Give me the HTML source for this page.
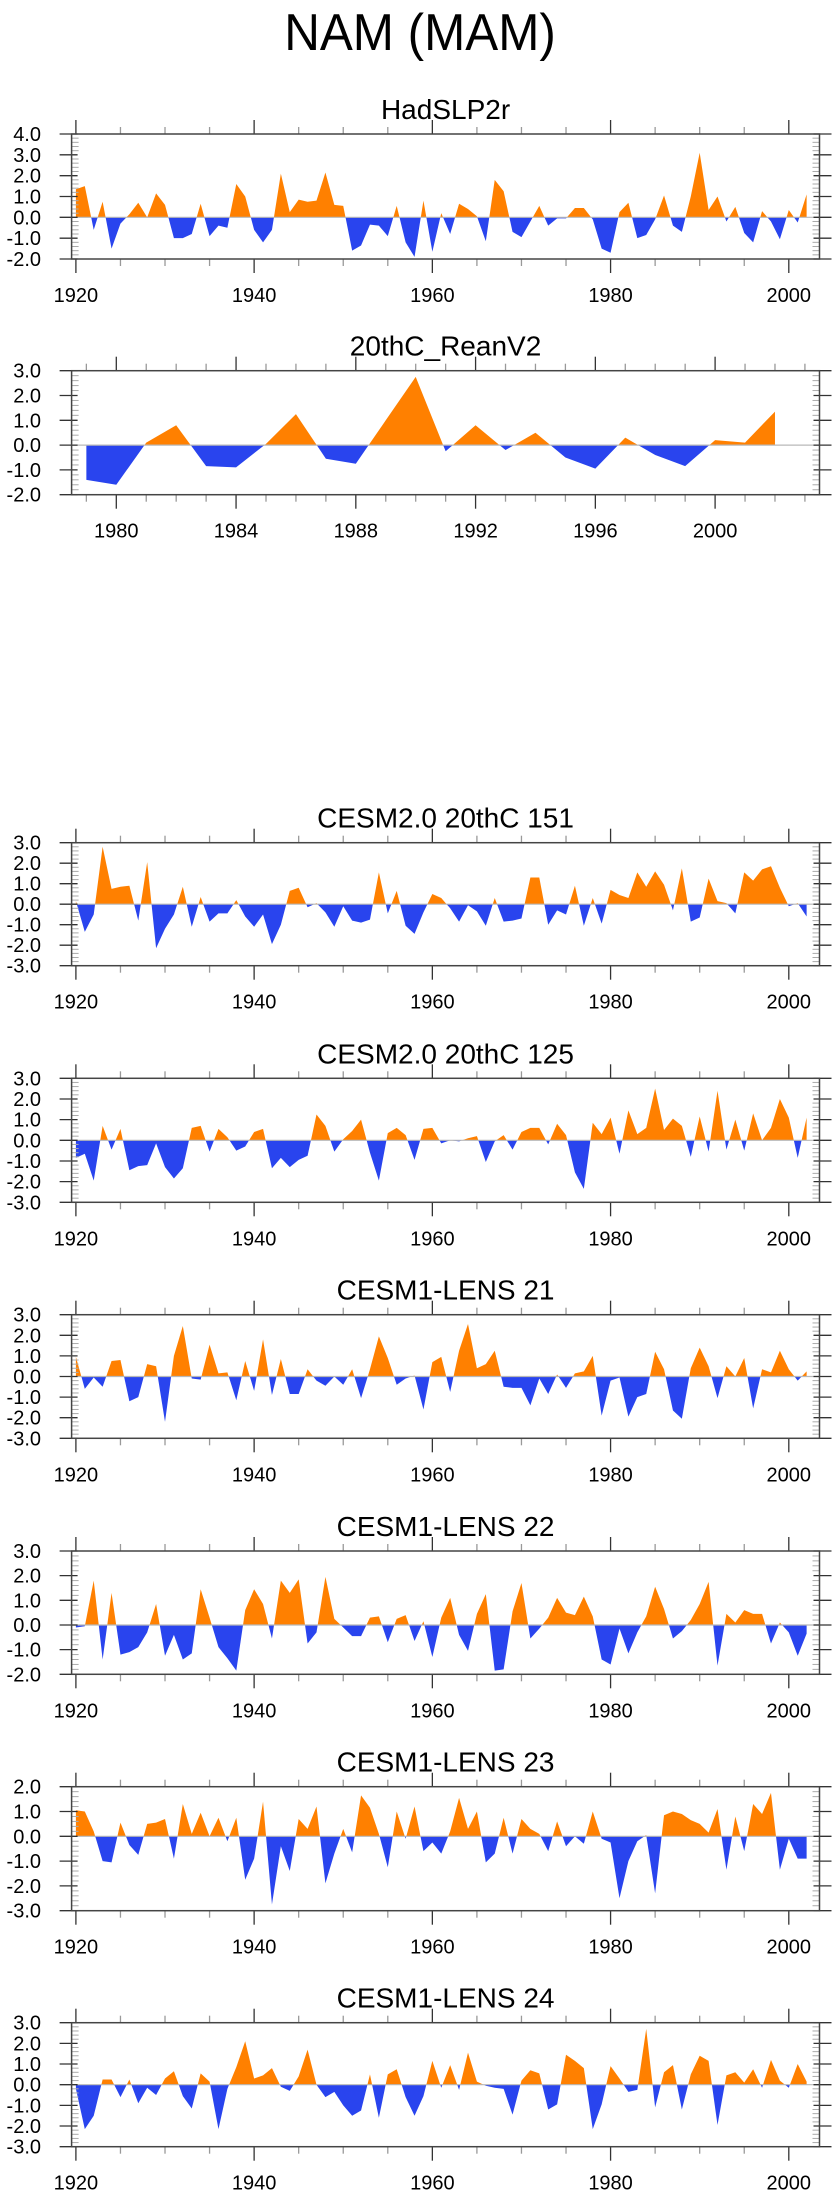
<!DOCTYPE html>
<html><head><meta charset="utf-8"><title>NAM (MAM)</title>
<style>
html,body{margin:0;padding:0;background:#fff;}
svg{display:block;font-family:"Liberation Sans",sans-serif;}
</style></head>
<body>
<svg id="chart" width="840" height="2200" viewBox="0 0 840 2200">
<text x="420" y="50" text-anchor="middle" font-size="52" fill="#000" transform="translate(420 0) scale(0.95 1) translate(-420 0)">NAM (MAM)</text>
</svg>
<script>
const yearsStart1920 = 1920;
const yearsStartRean = 1979;
const hadslp2r = [1.35,1.5,-0.6,0.75,-1.5,-0.3,0.15,0.7,0.0,1.15,0.6,-1.0,-1.0,-0.8,0.65,-0.9,-0.4,-0.5,1.6,1.0,-0.6,-1.2,-0.6,2.1,0.25,0.85,0.75,0.8,2.15,0.6,0.55,-1.6,-1.35,-0.35,-0.4,-0.9,0.55,-1.2,-1.9,0.8,-1.65,0.2,-0.8,0.65,0.4,0.05,-1.15,1.8,1.25,-0.7,-0.95,-0.2,0.55,-0.4,-0.05,-0.05,0.45,0.45,-0.1,-1.5,-1.7,0.25,0.7,-1.0,-0.85,-0.1,1.05,-0.4,-0.7,1.0,3.1,0.35,1.0,-0.2,0.5,-0.75,-1.2,0.3,-0.2,-1.05,0.35,-0.25,1.1];
const reanV2 = [-1.4,-1.6,0.1,0.8,-0.85,-0.9,0.05,1.25,-0.55,-0.75,1.0,2.75,-0.25,0.8,-0.2,0.5,-0.5,-0.95,0.3,-0.4,-0.85,0.2,0.1,1.35];
const cesm2_151 = [0.15,-1.35,-0.5,2.8,0.75,0.85,0.9,-0.8,2.05,-2.15,-1.2,-0.5,0.85,-1.1,0.35,-0.85,-0.45,-0.45,0.2,-0.6,-1.1,-0.5,-1.95,-1.0,0.65,0.8,-0.15,0.05,-0.4,-1.1,-0.1,-0.8,-0.9,-0.75,1.55,-0.45,0.65,-1.05,-1.45,-0.4,0.5,0.3,-0.2,-0.85,-0.05,-0.35,-1.05,0.3,-0.85,-0.8,-0.7,1.3,1.3,-1.0,-0.3,-0.5,0.9,-1.05,0.3,-0.95,0.7,0.45,0.3,1.55,0.85,1.6,0.95,-0.3,1.75,-0.85,-0.65,1.25,0.15,0.05,-0.45,1.55,1.15,1.7,1.85,0.8,-0.1,0.05,-0.6];
const cesm2_125 = [-0.85,-0.65,-1.95,0.7,-0.45,0.55,-1.45,-1.25,-1.2,-0.15,-1.3,-1.85,-1.35,0.6,0.7,-0.55,0.55,0.15,-0.5,-0.3,0.4,0.55,-1.35,-0.85,-1.3,-0.95,-0.75,1.25,0.7,-0.55,0.05,0.45,1.0,-0.6,-1.95,0.35,0.6,0.25,-0.95,0.55,0.6,-0.15,0.0,-0.05,0.1,0.2,-1.05,-0.05,0.25,-0.45,0.4,0.6,0.6,-0.2,0.8,0.25,-1.55,-2.35,0.85,0.3,1.1,-0.65,1.45,0.3,0.6,2.5,0.5,1.05,0.7,-0.8,1.15,-0.55,2.4,-0.45,1.0,-0.5,1.3,0.0,0.6,2.0,1.1,-0.85,1.1];
const lens21 = [0.95,-0.6,-0.05,-0.5,0.75,0.8,-1.2,-1.0,0.6,0.5,-2.2,1.0,2.45,-0.1,-0.15,1.55,0.15,0.2,-1.15,0.75,-0.7,1.8,-0.9,0.85,-0.85,-0.85,0.35,-0.2,-0.45,0.0,-0.4,0.35,-1.05,0.35,1.95,0.9,-0.4,-0.1,0.05,-1.6,0.7,0.95,-0.75,1.25,2.55,0.4,0.6,1.25,-0.5,-0.55,-0.55,-1.4,-0.1,-0.85,0.1,-0.55,0.15,0.25,1.0,-1.9,-0.2,-0.05,-1.95,-1.0,-0.85,1.2,0.35,-1.65,-2.05,0.4,1.4,0.5,-1.05,0.5,0.0,0.9,-1.55,0.35,0.2,1.25,0.35,-0.2,0.25];
const lens22 = [-0.1,-0.05,1.8,-1.4,1.3,-1.2,-1.1,-0.9,-0.3,0.85,-1.25,-0.4,-1.4,-1.15,1.45,0.3,-0.9,-1.35,-1.85,0.6,1.45,0.85,-0.55,1.8,1.3,1.85,-0.75,-0.3,1.95,0.25,-0.1,-0.45,-0.45,0.3,0.35,-0.7,0.25,0.4,-0.65,0.15,-1.3,0.3,1.1,-0.4,-1.05,0.45,1.25,-1.85,-1.8,0.55,1.7,-0.55,-0.15,0.3,1.1,0.5,0.4,1.15,0.35,-1.4,-1.6,-0.15,-1.15,-0.3,0.35,1.55,0.65,-0.55,-0.25,0.2,0.85,1.75,-1.65,0.45,0.1,0.6,0.45,0.45,-0.75,0.1,-0.3,-1.25,-0.35];
const lens23 = [1.05,1.0,0.2,-1.0,-1.05,0.55,-0.35,-0.75,0.5,0.55,0.7,-0.9,1.3,0.1,0.95,0.0,0.75,-0.2,0.75,-1.75,-0.9,1.4,-2.75,-0.4,-1.4,0.7,0.3,1.2,-1.9,-0.7,0.3,-0.65,1.65,1.15,0.1,-1.25,1.0,-0.1,1.2,-0.6,-0.25,-0.7,0.2,1.55,0.3,1.0,-1.05,-0.7,0.75,-0.7,0.7,0.3,0.1,-0.6,0.6,-0.4,0.0,-0.3,1.0,-0.1,-0.25,-2.5,-1.0,-0.2,0.05,-2.3,0.85,1.0,0.9,0.65,0.5,0.15,1.1,-1.35,0.8,-0.6,1.3,0.9,1.75,-1.35,-0.1,-0.9,-0.9];
const lens24 = [-0.2,-2.15,-1.5,0.25,0.25,-0.6,0.25,-0.9,-0.15,-0.5,0.3,0.65,-0.55,-1.15,0.55,0.15,-2.15,-0.2,0.85,2.1,0.3,0.45,0.8,-0.1,-0.3,0.4,1.7,0.0,-0.6,-0.35,-1.0,-1.5,-1.25,0.5,-1.6,0.5,0.75,-0.6,-1.5,-0.55,1.15,-0.15,0.95,-0.25,1.55,0.15,-0.05,-0.15,-0.2,-1.45,0.2,0.7,0.55,-1.2,-0.95,1.45,1.15,0.8,-2.15,-0.95,0.9,0.3,-0.35,-0.25,2.7,-1.1,0.6,0.95,-1.2,0.5,1.4,1.15,-1.95,0.45,0.6,0.1,0.75,-0.15,1.2,0.2,-0.15,1.0,0.15];
const panelTitles = ["HadSLP2r","20thC_ReanV2","CESM2.0 20thC 151","CESM2.0 20thC 125","CESM1-LENS 21","CESM1-LENS 22","CESM1-LENS 23","CESM1-LENS 24"];

const NS = "http://www.w3.org/2000/svg";
const svg = document.getElementById("chart");
function mk(tag, attrs, parent){
  const e = document.createElementNS(NS, tag);
  for (const k in attrs) e.setAttribute(k, attrs[k]);
  (parent||svg).appendChild(e);
  return e;
}
const L = 71.6, R = 819.5;
const panels = [
  {data:hadslp2r, start:yearsStart1920, top:134, bot:259, ymin:-2, ymax:4, kind:"long", name:"hadslp2r"},
  {data:reanV2, start:yearsStartRean, top:370.7, bot:494.7, ymin:-2, ymax:3, kind:"short", name:"reanv2"},
  {data:cesm2_151, start:yearsStart1920, top:842.7, bot:965.7, ymin:-3, ymax:3, kind:"long", name:"cesm2-151"},
  {data:cesm2_125, start:yearsStart1920, top:1078.3, bot:1202.3, ymin:-3, ymax:3, kind:"long", name:"cesm2-125"},
  {data:lens21, start:yearsStart1920, top:1314.7, bot:1438.3, ymin:-3, ymax:3, kind:"long", name:"lens-21"},
  {data:lens22, start:yearsStart1920, top:1551, bot:1674.3, ymin:-2, ymax:3, kind:"long", name:"lens-22"},
  {data:lens23, start:yearsStart1920, top:1786.7, bot:1910.7, ymin:-3, ymax:2, kind:"long", name:"lens-23"},
  {data:lens24, start:yearsStart1920, top:2022.7, bot:2146.7, ymin:-3, ymax:3, kind:"long", name:"lens-24"}
];
panels.forEach((p, i) => {
  const g = mk("g", {});
  
  
  const xs = p.kind === "long"
    ? (yr => 75.9 + (yr - 1920) * (788.8 - 75.9) / 80)
    : (yr => 116.3 + (yr - 1980) * 29.94);
  const ys = v => p.top + (p.ymax - v) * (p.bot - p.top) / (p.ymax - p.ymin);
  const y0 = ys(0);
  const t = mk("text", {x:(L+R)/2, y:p.top - 15, "text-anchor":"middle", "font-size":"28", fill:"#000"}, g);
  t.textContent = panelTitles[i];
  
  
  const cid = "c" + i;
  const defs = mk("defs", {}, g);
  const c1 = mk("clipPath", {id:cid + "a"}, defs);
  mk("rect", {x:0, y:p.top, width:840, height:y0 - p.top}, c1);
  const c2 = mk("clipPath", {id:cid + "b"}, defs);
  mk("rect", {x:0, y:y0, width:840, height:p.bot - y0}, c2);
  let d = "M" + xs(p.start).toFixed(2) + "," + y0.toFixed(2);
  p.data.forEach((v, k) => { d += " L" + xs(p.start + k).toFixed(2) + "," + ys(v).toFixed(2); });
  d += " L" + xs(p.start + p.data.length - 1).toFixed(2) + "," + y0.toFixed(2) + " Z";
  const pos = mk("path", {d:d, fill:"#ff8000", "clip-path":"url(#" + cid + "a)"}, g);
  
  
  const neg = mk("path", {d:d, fill:"#2944ee", "clip-path":"url(#" + cid + "b)"}, g);
  
  
  const zl = mk("line", {x1:L, x2:R, y1:y0, y2:y0, stroke:"#b8b8b8", "stroke-width":"1.2"}, g);
  
  
  for (let v = p.ymin; v <= p.ymax + 1e-9; v += 0.2) {
    const yy = ys(v);
    const major = Math.abs(v - Math.round(v)) < 1e-6;
    if (major) {
      mk("line", {x1:L - 12, x2:L + 6, y1:yy, y2:yy, stroke:"#333", "stroke-width":"1.3"}, g);
      mk("line", {x1:R - 6, x2:R + 12, y1:yy, y2:yy, stroke:"#333", "stroke-width":"1.3"}, g);
      const lb = mk("text", {x:41, y:yy + 7, "text-anchor":"end", "font-size":"20", fill:"#000"}, g);
      lb.textContent = Math.round(v).toFixed(1);
      
      
    } else {
      mk("line", {x1:L, x2:L + 7, y1:yy, y2:yy, stroke:"#aaa", "stroke-width":"1"}, g);
      mk("line", {x1:R - 7, x2:R, y1:yy, y2:yy, stroke:"#aaa", "stroke-width":"1"}, g);
    }
  }
  const first = p.kind === "long" ? 1920 : 1979;
  const last = 2003;
  for (let yr = first; yr <= last; yr++) {
    const xx = xs(yr);
    if (xx < L - 0.5 || xx > R + 0.5) continue;
    let major, minor;
    if (p.kind === "long") { major = yr % 20 === 0; minor = yr % 5 === 0; }
    else { major = yr % 4 === 0; minor = true; }
    if (!major && !minor) continue;
    const len = major ? 14 : 7;
    const col = major ? "#333" : "#999";
    mk("line", {x1:xx, x2:xx, y1:p.top - len, y2:p.top, stroke:col, "stroke-width":"1.3"}, g);
    mk("line", {x1:xx, x2:xx, y1:p.bot, y2:p.bot + len, stroke:col, "stroke-width":"1.3"}, g);
    if (major) {
      const lb = mk("text", {x:xx, y:p.bot + 43, "text-anchor":"middle", "font-size":"20", fill:"#000"}, g);
      lb.textContent = String(yr);
      
      
    }
  }
  const fr = mk("rect", {x:L, y:p.top, width:R - L, height:p.bot - p.top, fill:"none", stroke:"#444", "stroke-width":"1.5"}, g);
  
  
});
</script>
</body></html>
